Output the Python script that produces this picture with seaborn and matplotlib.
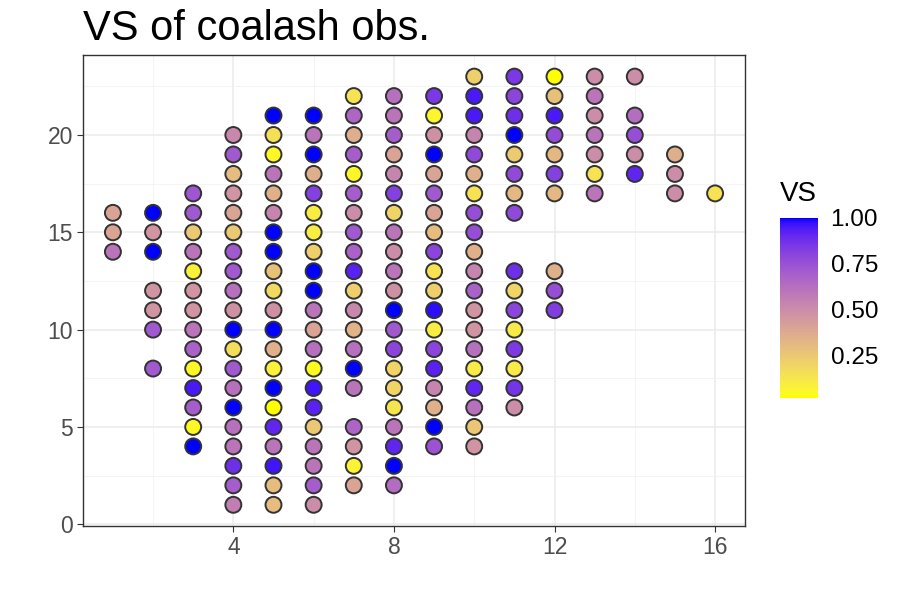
import numpy as np
import pandas as pd
import matplotlib
matplotlib.use("Agg")
import matplotlib.pyplot as plt
import seaborn as sns
from matplotlib.colors import ListedColormap, Normalize
from matplotlib.cm import ScalarMappable

# observations, column by column (x), listed from top to bottom
x = ([1] * 3 + [2] * 7 + [3] * 14 + [4] * 20 + [5] * 21 + [6] * 21 + [7] * 20
     + [8] * 21 + [9] * 19 + [10] * 20 + [11] * 16 + [12] * 10 + [13] * 7
     + [14] * 5 + [15] * 3 + [16] * 1)
y = ([16, 15, 14]
     + [16, 15, 14, 12, 11, 10, 8]
     + list(range(17, 3, -1))
     + list(range(20, 0, -1))
     + list(range(21, 0, -1))
     + list(range(21, 0, -1))
     + [22, 21, 20, 19, 18, 17, 16, 15, 14, 13, 12, 11, 10, 9, 8, 7, 5, 4, 3, 2]
     + list(range(22, 1, -1))
     + list(range(22, 3, -1))
     + list(range(23, 3, -1))
     + [23, 22, 21, 20, 19, 18, 17, 16, 13, 12, 11, 10, 9, 8, 7, 6]
     + [23, 22, 21, 20, 19, 18, 17, 13, 12, 11]
     + list(range(23, 16, -1))
     + [23, 21, 20, 19, 18]
     + [19, 18, 17]
     + [17])
vs = ([0.40, 0.40, 0.60]
      + [1.0, 0.47, 1.0, 0.47, 0.47, 0.72, 0.72]
      + [0.73, 0.72, 0.25, 0.60, 0.08, 0.47, 0.47, 0.60, 0.68, 0.05, 0.95, 0.70, 0.05, 1.0]
      + [0.52, 0.72, 0.30, 0.47, 0.40, 0.25, 0.72, 0.72, 0.62, 0.48,
         1.0, 0.16, 0.72, 0.62, 1.0, 0.62, 0.60, 0.88, 0.70, 0.56]
      + [1.0, 0.15, 0.05, 0.60, 0.35, 0.53, 1.0, 1.0, 0.28, 0.18, 0.48,
         1.0, 0.35, 0.08, 1.0, 0.02, 0.91, 0.60, 0.96, 0.30, 0.30]
      + [1.0, 0.60, 1.0, 0.36, 0.82, 0.10, 0.10, 0.22, 1.0, 1.0, 0.60,
         0.40, 0.62, 0.04, 0.96, 0.92, 0.25, 0.60, 0.60, 0.70, 0.50]
      + [0.14, 0.66, 0.36, 0.70, 0.05, 0.70, 0.50, 0.72, 0.68, 0.92,
         0.22, 0.52, 0.34, 0.62, 1.0, 0.60, 0.67, 0.47, 0.07, 0.40]
      + [0.62, 0.60, 0.70, 0.40, 0.53, 0.82, 0.20, 0.60, 0.50, 0.60, 0.48,
         1.0, 0.72, 0.80, 0.20, 0.20, 0.13, 0.60, 0.91, 1.0, 0.64]
      + [0.85, 0.06, 0.48, 1.0, 0.40, 0.72, 0.40, 0.30, 0.80, 0.14,
         0.22, 0.98, 0.10, 0.80, 0.92, 0.53, 0.35, 1.0, 0.74]
      + [0.22, 0.95, 0.95, 0.53, 0.78, 0.35, 0.14, 0.76, 0.76, 0.35,
         0.53, 0.68, 0.47, 0.47, 0.62, 0.11, 0.91, 0.62, 0.26, 0.47]
      + [0.85, 0.80, 0.88, 1.0, 0.24, 0.78, 0.32, 0.78,
         0.88, 0.20, 0.80, 0.11, 0.84, 0.11, 0.86, 0.50]
      + [0.02, 0.28, 0.95, 0.77, 0.32, 0.82, 0.32, 0.35, 0.76, 0.83]
      + [0.50, 0.60, 0.50, 0.60, 0.50, 0.14, 0.60]
      + [0.50, 0.63, 0.76, 0.50, 0.91]
      + [0.36, 0.50, 0.50]
      + [0.14])

df = pd.DataFrame({"x": x, "y": y, "VS": vs})


# yellow -> blue gradient interpolated in CIELAB (like ggplot's scale_fill_gradient)
def srgb_to_lab(c):
    c = np.asarray(c, float)
    lin = np.where(c <= 0.04045, c / 12.92, ((c + 0.055) / 1.055) ** 2.4)
    m = np.array([[0.4124564, 0.3575761, 0.1804375],
                  [0.2126729, 0.7151522, 0.0721750],
                  [0.0193339, 0.1191920, 0.9503041]])
    xyz = m @ lin / np.array([0.95047, 1.0, 1.08883])
    d = 6 / 29
    f = np.where(xyz > d ** 3, np.cbrt(xyz), xyz / (3 * d * d) + 4 / 29)
    return np.array([116 * f[1] - 16, 500 * (f[0] - f[1]), 200 * (f[1] - f[2])])


def lab_to_srgb(lab):
    L, a, b = lab
    fy = (L + 16) / 116
    fx = fy + a / 500
    fz = fy - b / 200
    d = 6 / 29
    f = np.array([fx, fy, fz])
    xyz = np.where(f > d, f ** 3, 3 * d * d * (f - 4 / 29)) * np.array([0.95047, 1.0, 1.08883])
    minv = np.array([[3.2404542, -1.5371385, -0.4985314],
                     [-0.9692660, 1.8760108, 0.0415560],
                     [0.0556434, -0.2040259, 1.0572252]])
    lin = np.clip(minv @ xyz, 0, 1)
    c = np.where(lin <= 0.0031308, 12.92 * lin, 1.055 * lin ** (1 / 2.4) - 0.055)
    return np.clip(c, 0, 1)


lab_lo = srgb_to_lab([1, 1, 0])
lab_hi = srgb_to_lab([0, 0, 1])
cmap = ListedColormap([lab_to_srgb(lab_lo + t * (lab_hi - lab_lo)) for t in np.linspace(0, 1, 256)])
vmin, vmax = min(vs), max(vs)

sns.set_theme(style="white")
plt.rcParams["font.family"] = ["Liberation Sans", "DejaVu Sans"]

fig = plt.figure(figsize=(9, 6), dpi=100)
ax = fig.add_axes([0.092, 0.123, 0.736, 0.785])

sns.scatterplot(data=df, x="x", y="y", hue="VS", palette=cmap, hue_norm=(vmin, vmax),
                s=132, edgecolor="#333333", linewidth=1.4, legend=False, ax=ax, zorder=3)

ax.set_xlim(0.25, 16.75)
ax.set_ylim(-0.1, 24.1)
ax.set_xticks([4, 8, 12, 16])
ax.set_yticks([0, 5, 10, 15, 20])
ax.set_xticks([2, 6, 10, 14], minor=True)
ax.set_yticks([2.5, 7.5, 12.5, 17.5, 22.5], minor=True)
ax.grid(which="major", color="#EBEBEB", linewidth=1.1)
ax.grid(which="minor", color="#F2F2F2", linewidth=0.6)
ax.set_axisbelow(True)
ax.tick_params(which="major", length=4, width=0.8, color="#333333",
               labelsize=16.5, labelcolor="#4D4D4D", pad=3, bottom=True, left=True)
ax.tick_params(which="minor", length=0)
ax.set_xlabel("")
ax.set_ylabel("")
for sp in ax.spines.values():
    sp.set_color("#333333")
    sp.set_linewidth(1.0)

fig.text(0.092, 0.952, "VS of coalash obs.", fontsize=30, color="black", ha="left", va="center")

cax = fig.add_axes([0.867, 0.337, 0.042, 0.3])
cb = fig.colorbar(ScalarMappable(norm=Normalize(vmin, vmax), cmap=cmap), cax=cax,
                  ticks=[0.25, 0.5, 0.75, 1.0], format="%.2f")
cb.outline.set_visible(False)
cax.tick_params(axis="y", direction="in", length=7, width=1, color="white",
                left=True, right=True, labelleft=False, labelright=True,
                labelsize=17.5, labelcolor="black", pad=9)
fig.text(0.867, 0.676, "VS", fontsize=20, color="black", ha="left", va="center")

fig.savefig("out.png", dpi=100)
